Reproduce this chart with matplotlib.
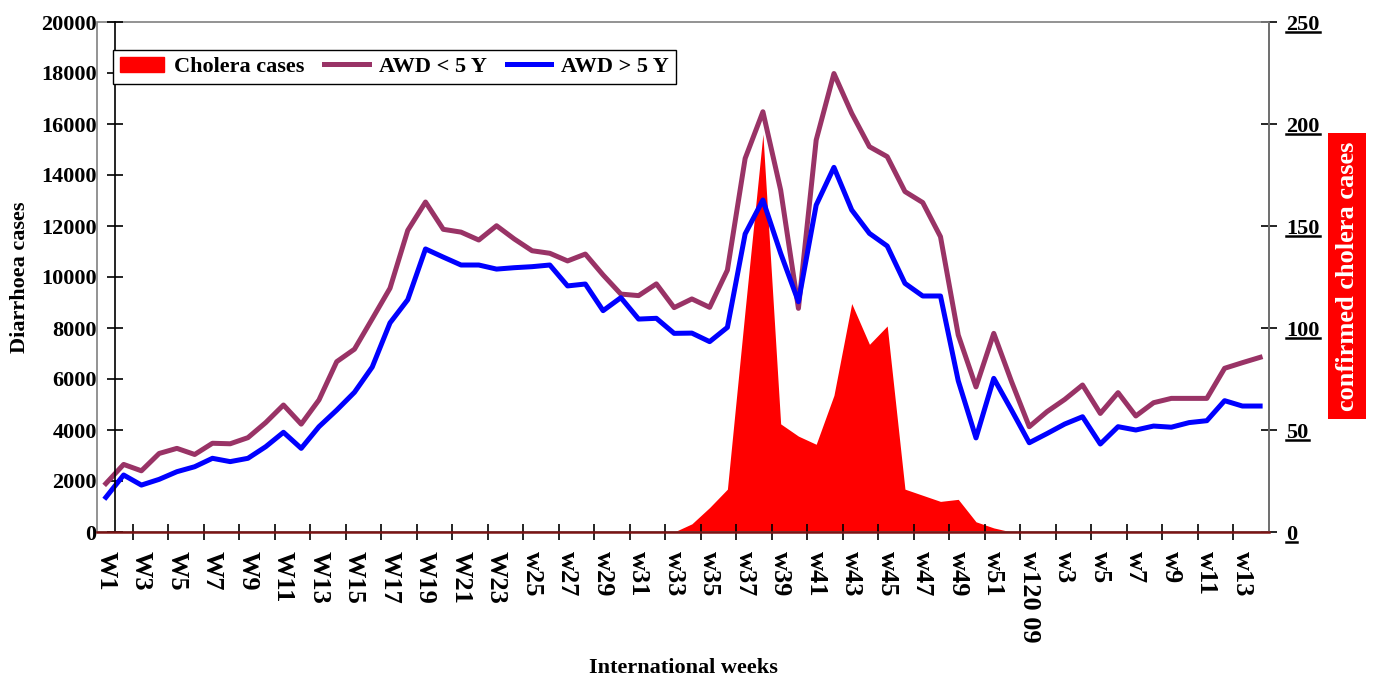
import matplotlib
matplotlib.use('Agg')
import matplotlib.pyplot as plt
import numpy as np
from matplotlib.lines import Line2D
from matplotlib.patches import Patch, Rectangle

# weekly counts, 2008 W1 .. 2009 w14
awd_under5 = [1900, 2650, 2400, 3080, 3280, 3040, 3480, 3460, 3700, 4290,
              4980, 4230, 5180, 6680, 7170, 8360, 9560, 11830, 12940, 11870,
              11760, 11450, 12010, 11490, 11030, 10930, 10630, 10900, 10080, 9330,
              9270, 9730, 8800, 9140, 8810, 10270, 14650, 16480, 13410, 8770,
              15370, 17980, 16420, 15110, 14720, 13350, 12920, 11580, 7725, 5690,
              7790, 5900, 4130, 4720, 5200, 5765, 4650, 5465, 4550, 5070,
              5240, 5240, 5240, 6420, 6640, 6850]
awd_over5 = [1360, 2235, 1840, 2065, 2365, 2560, 2890, 2760, 2890, 3345,
             3910, 3280, 4130, 4780, 5480, 6470, 8200, 9110, 11100, 10780,
             10470, 10470, 10310, 10365, 10405, 10470, 9650, 9725, 8680, 9190,
             8350, 8380, 7790, 7800, 7465, 8025, 11690, 13020, 10930, 9030,
             12820, 14300, 12630, 11710, 11215, 9750, 9255, 9255, 5930, 3690,
             6025, 4780, 3500, 3860, 4235, 4520, 3450, 4130, 4000, 4155,
             4110, 4290, 4365, 5150, 4940, 4940]
cholera = [0] * 33 + [4, 12, 21, 109, 195, 53, 47, 43, 67, 112, 92, 101, 21, 18, 15, 16, 5, 2, 0] + [0] * 14

tick_labels = ['W1', 'W3', 'W5', 'W7', 'W9', 'W11', 'W13', 'W15', 'W17', 'W19', 'W21', 'W23',
               'w25', 'w27', 'w29', 'w31', 'w33', 'w35', 'w37', 'w39', 'w41', 'w43', 'w45',
               'w47', 'w49', 'w51', 'w120 09', 'w3', 'w5', 'w7', 'w9', 'w11', 'w13']

plt.rcParams['font.family'] = 'Liberation Serif'
plt.rcParams['font.weight'] = 'bold'
plt.rcParams['font.size'] = 16

x = np.arange(len(awd_under5))

fig = plt.figure(figsize=(13.78, 6.79), dpi=100)
ax = fig.add_axes([97 / 1378, 1 - 532 / 679, (1269 - 97) / 1378, 510 / 679])
ax2 = ax.twinx()
ax.set_zorder(ax2.get_zorder() + 1)
ax.patch.set_visible(False)

# cholera area on the right axis (behind)
ax2.fill_between(x, cholera, 0, color='#ff0000', lw=0)
ax2.set_ylim(0, 250)
ax2.set_yticks(np.arange(0, 251, 50))

# diarrhoea lines on the left axis
ax.plot(x, awd_under5, color='#993366', lw=3.6)
ax.plot(x, awd_over5, color='#0000ff', lw=3.6)
ax.set_xlim(-0.5, len(x) - 0.5)
ax.set_ylim(0, 20000)
ax.set_yticks(np.arange(0, 20001, 2000))

# frame of the plot area
ax.add_patch(Rectangle((0, 0), 1, 1, transform=ax.transAxes, fill=False,
                       ec='#808080', lw=1.2, clip_on=False, zorder=0))

for a in (ax, ax2):
    a.spines['top'].set_visible(False)
ax.spines['right'].set_visible(False)
ax2.spines['left'].set_visible(False)
ax2.spines['bottom'].set_visible(False)
ax.spines['left'].set_position(('data', 0.5))
ax.spines['left'].set_linewidth(1.2)
ax.spines['bottom'].set_color('#7a1414')
ax.spines['bottom'].set_linewidth(1.8)
ax2.spines['right'].set_linewidth(1.2)

ax.tick_params(axis='y', direction='inout', length=11, width=1.2, pad=7.5)
ax2.tick_params(axis='y', direction='inout', length=11, width=1.2, pad=7)

ax.set_xticks(x[::2])
ax.set_xticklabels(tick_labels, rotation=-90, va='top', ha='center', fontsize=19)
ax.set_xticks(np.arange(1.5, len(x) - 0.5, 2), minor=True)
ax.tick_params(axis='x', which='major', length=0, pad=14)
ax.tick_params(axis='x', which='minor', direction='inout', length=12, width=1.2)

fig.text(683 / 1378, 1 - 668 / 679, 'International weeks', ha='center', va='center')
fig.text(20 / 1378, 1 - 277 / 679, 'Diarrhoea cases', rotation=90, ha='center', va='center')
fig.text(1347 / 1378, 1 - 276 / 679, 'confirmed cholera cases', rotation=90,
         ha='center', va='center', color='white', fontsize=19,
         bbox=dict(boxstyle='square,pad=0.3', fc='#ff0000', ec='none'))

handles = [Patch(color='#ff0000'),
           Line2D([], [], color='#993366', lw=3.6),
           Line2D([], [], color='#0000ff', lw=3.6)]
leg = fig.legend(handles, ['Cholera cases', 'AWD < 5 Y', 'AWD > 5 Y'], ncol=3,
                 loc='upper left', bbox_to_anchor=(113 / 1378, 1 - 50 / 679),
                 bbox_transform=fig.transFigure, borderaxespad=0, fancybox=False,
                 edgecolor='black', framealpha=1, handlelength=2.0, handleheight=0.7,
                 handletextpad=0.45, columnspacing=0.9, borderpad=0.3)
leg.get_frame().set_linewidth(1.0)

# underline the right-hand tick labels
fig.canvas.draw()
renderer = fig.canvas.get_renderer()
inv = fig.transFigure.inverted()
for lbl in ax2.get_yticklabels():
    bb = lbl.get_window_extent(renderer)
    (x0, y0), (x1, _) = inv.transform([(bb.x0, bb.y0 + 2.5), (bb.x1, bb.y0 + 2.5)])
    fig.add_artist(Line2D([x0, x1], [y0, y0], color='black', lw=1.8, transform=fig.transFigure))

fig.savefig('out.png', dpi=100)
